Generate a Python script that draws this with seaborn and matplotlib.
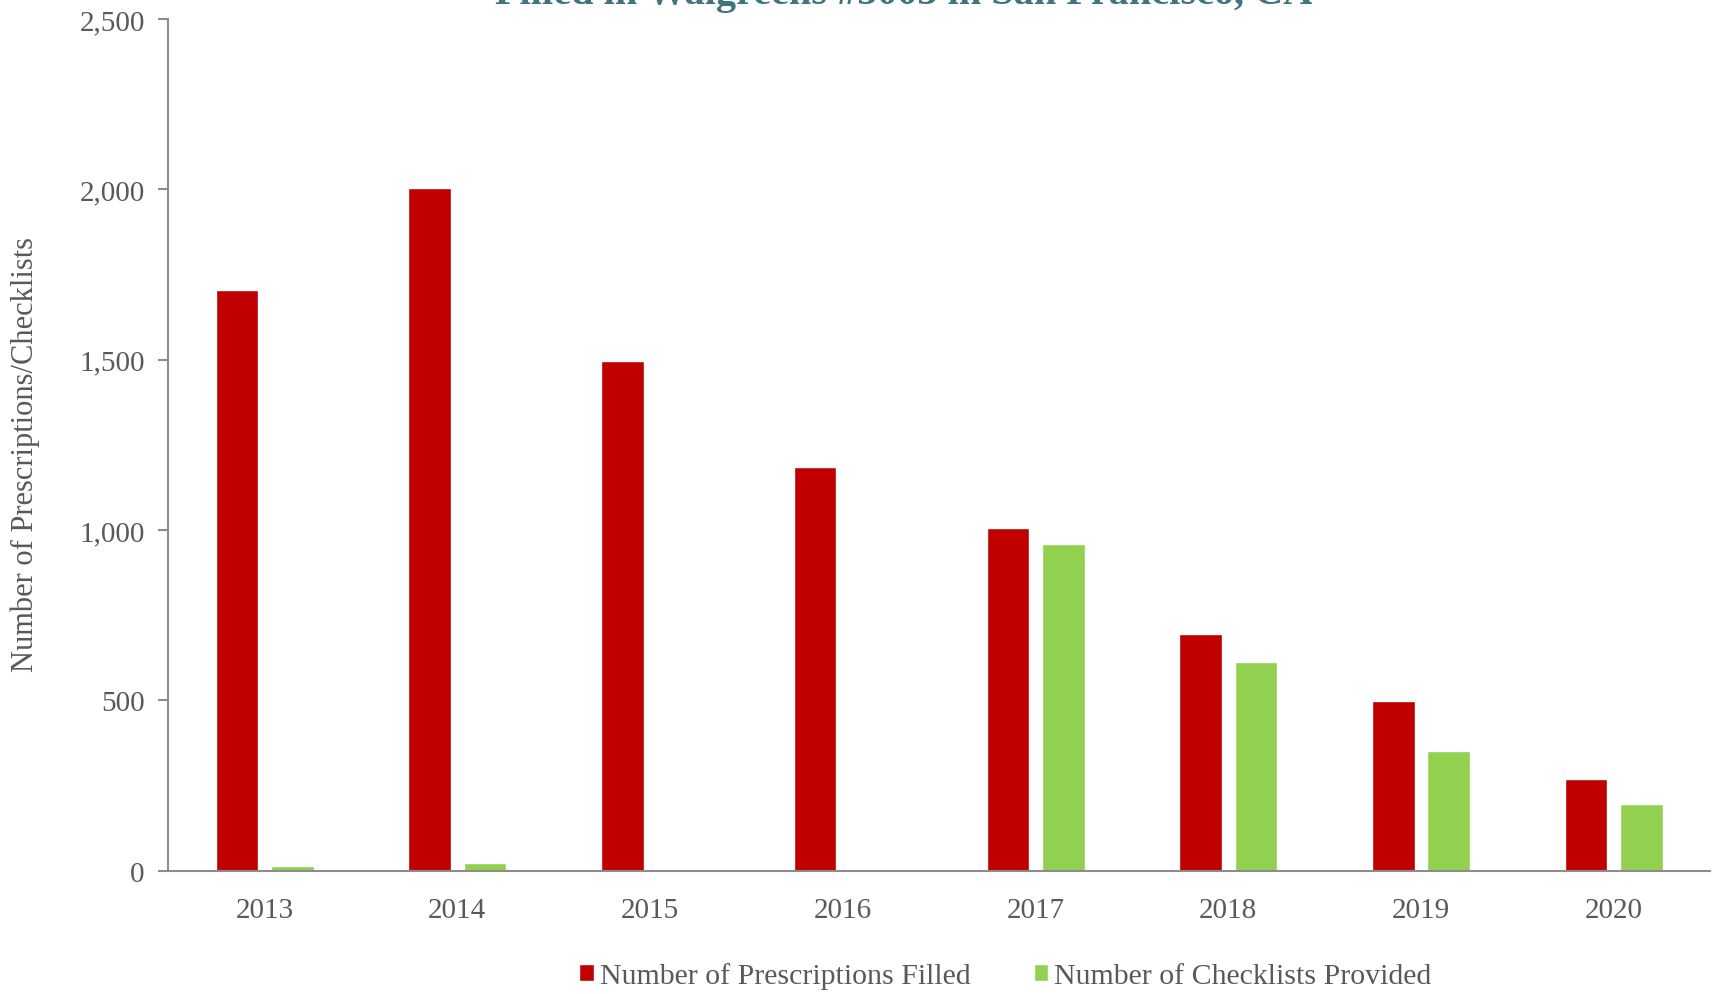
import pandas as pd
import matplotlib.pyplot as plt
import seaborn as sns

# data
years = ["2013", "2014", "2015", "2016", "2017", "2018", "2019", "2020"]
prescriptions = [1703, 2003, 1495, 1186, 1005, 694, 498, 270]
checklists = [13, 22, 1, 1, 958, 611, 350, 196]

rx_label = "Number of Prescriptions Filled"
ck_label = "Number of Checklists Provided"

df = pd.DataFrame({
    "year": years * 2,
    "value": prescriptions + checklists,
    "series": [rx_label] * len(years) + [ck_label] * len(years),
})

sns.set_theme(style="white")
plt.rcParams['font.family'] = ['Liberation Serif', 'DejaVu Serif']
grey = "#595959"

fig = plt.figure(figsize=(17.17, 9.95), dpi=100)
ax = fig.add_axes([0.098, 0.124, 0.898, 0.856])

sns.barplot(data=df, x="year", y="value", hue="series",
            palette=["#C00000", "#92D050"], width=0.575, gap=0.23,
            saturation=1, ax=ax)

ax.set_xlim(-0.5, 7.5)
ax.set_ylim(0, 2500)
ax.set_yticks([0, 500, 1000, 1500, 2000, 2500])
ax.set_yticklabels(["0", "500", "1,000", "1,500", "2,000", "2,500"])
ax.set_xlabel("")
ax.set_ylabel("Number of Prescriptions/Checklists", fontsize=22, color=grey)
ax.yaxis.set_label_coords(-0.083, 0.49)

sns.despine(ax=ax)
for s in ["left", "bottom"]:
    ax.spines[s].set_color("#8c8c8c")
    ax.spines[s].set_linewidth(1.5)
ax.tick_params(axis="y", left=True, length=7, width=1.5, color="#8c8c8c",
               labelsize=21, labelcolor=grey, pad=10)
ax.tick_params(axis="x", bottom=False, labelsize=21, labelcolor=grey, pad=13)

leg = ax.legend(loc="center", bbox_to_anchor=(0.543, -0.123), ncol=2,
                frameon=False, fontsize=21.5, handlelength=0.5, handleheight=0.5,
                handletextpad=0.2, columnspacing=2.1)
for t in leg.get_texts():
    t.set_color(grey)

# title is mostly clipped at the top edge of the image
fig.text(0.526, 1 - 4 / 995, "Filled in Walgreens #5003 in San Francisco, CA",
         ha="center", va="baseline", fontsize=29, fontweight="bold", color="#3F7480")

fig.savefig("out.png", dpi=100)
